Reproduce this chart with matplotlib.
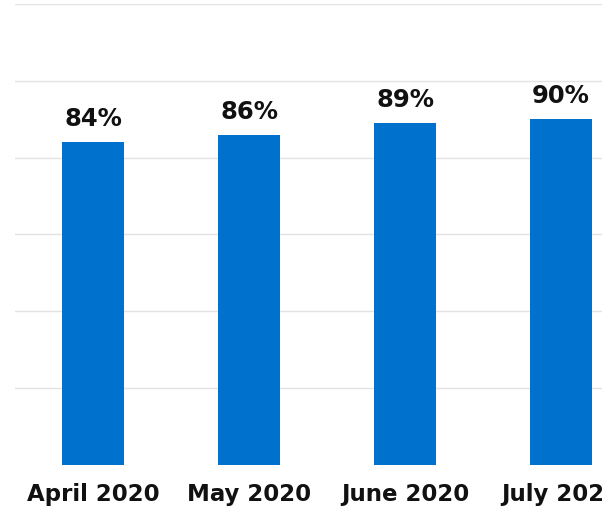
import matplotlib
matplotlib.use('Agg')
import matplotlib.pyplot as plt
from matplotlib.patches import Rectangle

months = ['April 2020', 'May 2020', 'June 2020', 'July 2020']
shares = [84, 86, 89, 90]
yticks = [20, 40, 60, 80, 100, 120]

bar_color = '#0072CE'

fig = plt.figure(figsize=(6.13, 5.11), dpi=100)
# axes runs past the right edge like the cropped original
ax = fig.add_axes([15 / 613, 46 / 511, 624 / 613, 461 / 511])

x = list(range(len(months)))
ax.bar(x, shares, width=0.4, color=bar_color, zorder=2)

for xi, v in zip(x, shares):
    ax.annotate(f'{v}%', (xi, v), xytext=(0, 8), textcoords='offset points',
                ha='center', va='bottom', fontsize=17.5, fontweight='bold',
                color='#111111')

ax.set_xlim(-0.5, len(months) - 0.5)
ax.set_ylim(0, 120)
ax.set_yticks(yticks)
ax.set_yticklabels([])
ax.yaxis.grid(True, color='#e3e3e3', linewidth=1)
ax.set_axisbelow(True)
ax.tick_params(axis='y', length=0)

ax.set_xticks(x)
ax.set_xticklabels(months, fontsize=16.5, fontweight='bold', color='#111111')
ax.tick_params(axis='x', length=0, pad=13)

for side in ['top', 'right', 'left', 'bottom']:
    ax.spines[side].set_visible(False)

# white strip where the original image was cut off
fig.patches.append(Rectangle((602 / 613, 0), 11 / 613, 1, transform=fig.transFigure,
                             facecolor='white', edgecolor='none', zorder=10))

fig.savefig('out.png', dpi=100)
